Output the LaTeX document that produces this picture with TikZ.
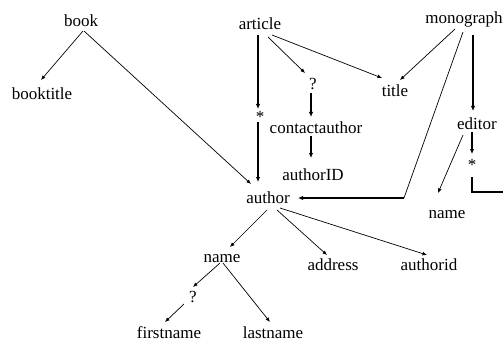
\documentclass[tikz,border=0pt]{standalone}
\usepackage{fontspec}
\setmainfont{Liberation Serif}
\usetikzlibrary{arrows.meta,calc}
\begin{document}
\begin{tikzpicture}[x=1pt,y=-1pt,
  lbl/.style={font=\fontsize{17}{20}\selectfont, inner sep=0pt, anchor=base},
  sym/.style={font=\fontsize{17}{20}\selectfont, inner sep=0pt},
  thinline/.style={line width=0.7pt, draw=black},
  thinarrow/.style={thinline, -{Latex[length=4.5pt,width=3.8pt]}},
  thickline/.style={line width=1.7pt},
  thickarrow/.style={thickline, -{Latex[length=5pt,width=4.5pt]}}]
\useasboundingbox (0,0) rectangle (503,342);
% nodes
\node[lbl] (book) at (81,27) {book};
\node[lbl] (booktitle) at (42,100) {booktitle};
\node[lbl] (article) at (260,30) {article};
\node[lbl] (mono) at (464,24) {monograph};
\node[lbl] (title) at (395,97) {title};
\node[sym] (q1) at (313,84) {?};
\node[lbl] (contact) at (316,133) {contactauthor};
\node[lbl] (authorID) at (313,180) {authorID};
\node[sym] (s1) at (260,117) {*};
\node[lbl] (author) at (268,203) {author};
\node[lbl] (editor) at (477,130) {editor};
\node[sym] (s2) at (472,165) {*};
\node[lbl] (nameR) at (447,218) {name};
\node[lbl] (nameL) at (222,262) {name};
\node[lbl] (address) at (333,270) {address};
\node[lbl] (authorid) at (429,270) {authorid};
\node[sym] (q2) at (193,297) {?};
\node[lbl] (first) at (169,338) {firstname};
\node[lbl] (last) at (273,338) {lastname};
\coordinate (mc) at (404,198);
\coordinate (rend) at (503,192);
% connectors
\draw[thinarrow] ($(book.base)+(2,4)$) -- ($(booktitle.base)+(-1,-20)$);
\draw[thinarrow] ($(book.base)+(3,4)$) -- ($(author.base)+(-17,-19)$);
\draw[thickarrow] ($(article.base)+(-2,5)$) -- ($(s1)+(-2,-8)$);
\draw[thickarrow] ($(s1)+(-2,5)$) -- ($(author.base)+(-10,-21)$);
\draw[thinarrow] ($(article.base)+(8,7)$) -- ($(q1)+(-8,-11)$);
\draw[thinarrow] ($(article.base)+(12,5)$) -- ($(title.base)+(-13,-19)$);
\draw[thickarrow] ($(q1)+(-2,9)$) -- ($(contact.base)+(-5,-16)$);
\draw[thickarrow] ($(contact.base)+(-5,3)$) -- ($(authorID.base)+(-2,-22)$);
\draw[thinarrow] ($(mono.base)+(-9,5)$) -- ($(title.base)+(5,-17)$);
\draw[thinline] ($(mono.base)+(-1,8)$) -- (mc);
\draw[thickarrow] (mc) -- ($(author.base)+(30,-5)$);
\draw[thickarrow] ($(mono.base)+(9,11)$) -- ($(editor.base)+(-4,-19)$);
\draw[thickarrow] ($(editor.base)+(-5,2)$) -- ($(s2)+(0,-11)$);
\draw[thickline] ($(s2)+(0,12)$) |- (rend);
\draw[thinarrow] ($(editor.base)+(-14,5)$) -- ($(nameR.base)+(-9,-25)$);
\draw[thinarrow] ($(author.base)+(-1,7)$) -- ($(nameL.base)+(8,-15)$);
\draw[thinarrow] ($(author.base)+(9,7)$) -- ($(address.base)+(-6,-15)$);
\draw[thinarrow] ($(author.base)+(12,5)$) -- ($(authorid.base)+(-2,-15)$);
\draw[thinarrow] ($(nameL.base)+(-2,1)$) -- ($(q2)+(0,-10)$);
\draw[thinarrow] ($(q2)+(-9,7)$) -- ($(first.base)+(-4,-16)$);
\draw[thinarrow] ($(nameL.base)+(1,1)$) -- ($(last.base)+(-3,-16)$);
\end{tikzpicture}
\end{document}
